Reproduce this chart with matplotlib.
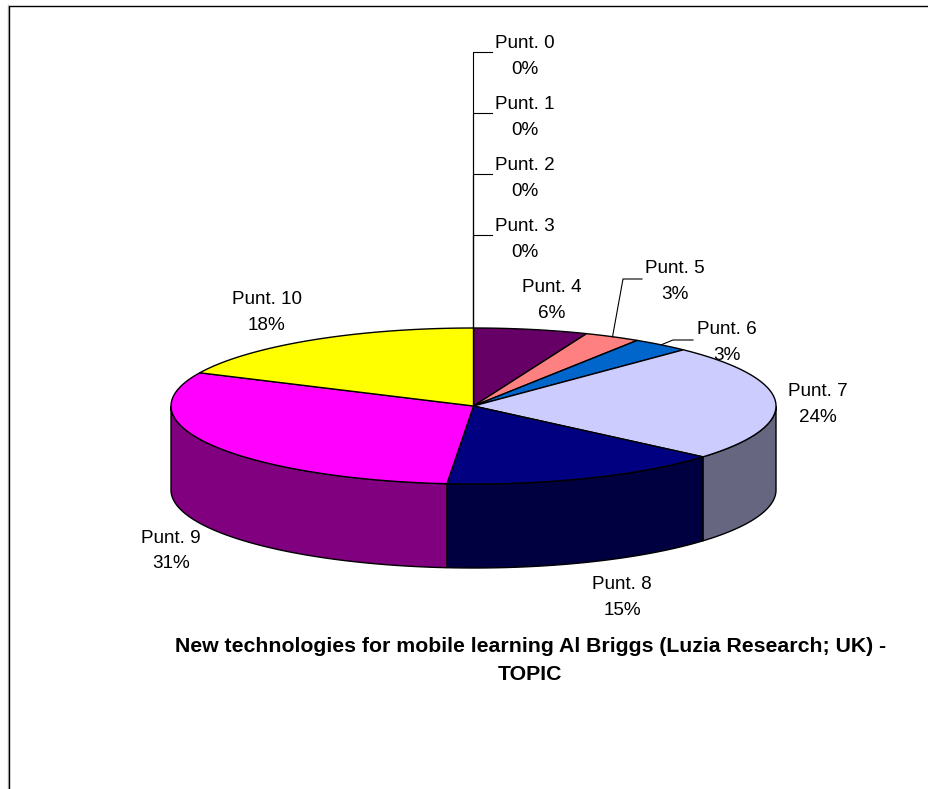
import numpy as np
import matplotlib
matplotlib.use('Agg')
import matplotlib.pyplot as plt

# Slices, clockwise from 12 o'clock
names = ['Punt. 0', 'Punt. 1', 'Punt. 2', 'Punt. 3', 'Punt. 4', 'Punt. 5',
         'Punt. 6', 'Punt. 7', 'Punt. 8', 'Punt. 9', 'Punt. 10']
values = [0, 0, 0, 0, 6.1, 3.0, 3.1, 24.1, 15.1, 30.6, 18.0]
colors = ['#000080', '#FF00FF', '#FFFF00', '#00FFFF', '#660066', '#FF8080',
          '#0066CC', '#CCCCFF', '#000080', '#FF00FF', '#FFFF00']
title = 'New technologies for mobile learning Al Briggs (Luzia Research; UK) -\nTOPIC'

# Pie geometry, in pixels
cx, cy = 473.5, 406
rx, ry = 302.5, 78
depth = 84

# Label centres and leader elbows, in pixels
label_pos = [(525, 56.5), (525, 117.5), (525, 178.5), (525, 239.5), (552, 300.5), (675, 281.5),
             (727, 342.5), (818, 404.5), (622, 597.5), (171, 551), (267, 312.5)]
leaders = {0: [(cx, 52), (492, 52)], 1: [(cx, 113), (492, 113)],
           2: [(cx, 174), (492, 174)], 3: [(cx, 235), (492, 235)],
           5: [(623, 279), (642, 279)], 6: [(673, 340), (693, 340)]}

plt.rcParams['font.family'] = ['Liberation Sans', 'DejaVu Sans']
fig = plt.figure(figsize=(9.29, 7.89), dpi=100)
ax = fig.add_axes([0, 0, 1, 1])
ax.set_xlim(0, 929)
ax.set_ylim(789, 0)
ax.axis('off')

def rim(a):
    return cx + rx * np.sin(a), cy - ry * np.cos(a)

def shade(c):
    return tuple(v * .5 for v in matplotlib.colors.to_rgb(c))

# Frame, left and top only with a soft grey edge
ax.plot([8.5, 8.5], [789, 5], color='#c0c0c0', lw=1, zorder=0)
ax.plot([9.5, 9.5, 929], [789, 5.5, 5.5], color='k', lw=1, zorder=1)

angles = 2 * np.pi * np.cumsum([0] + values) / sum(values)

# Side wall (front half only)
for i in range(len(values)):
    a0 = max(angles[i], np.pi / 2)
    a1 = min(angles[i + 1], 3 * np.pi / 2)
    if a1 <= a0:
        continue
    t = np.linspace(a0, a1, 100)
    x, y = rim(t)
    ax.fill(np.r_[x, x[::-1]], np.r_[y, y[::-1] + depth], facecolor=shade(colors[i]),
            edgecolor='k', lw=1, zorder=2)

# Top face
for i in range(len(values)):
    if values[i] == 0:
        continue
    t = np.linspace(angles[i], angles[i + 1], 200)
    x, y = rim(t)
    ax.fill(np.r_[cx, x], np.r_[cy, y], facecolor=colors[i], edgecolor='k', lw=1,
            joinstyle='round', zorder=3)

# Leader lines, starting from the middle of their slice
for i, pts in leaders.items():
    sx, sy = rim((angles[i] + angles[i + 1]) / 2)
    ax.plot([sx] + [p[0] for p in pts], [sy] + [p[1] for p in pts], color='k', lw=.8, zorder=4)

for name, v, (lx, ly) in zip(names, values, label_pos):
    ax.text(lx, ly, f'{name}\n{v:.0f}%', ha='center', va='center', fontsize=13.6,
            linespacing=1.66, color='k', zorder=5)

ax.text(530.5, 660, title, ha='center', va='center', fontsize=15.3, fontweight='bold',
        linespacing=1.6, color='k', zorder=5)

fig.savefig('out.png', dpi=100)
